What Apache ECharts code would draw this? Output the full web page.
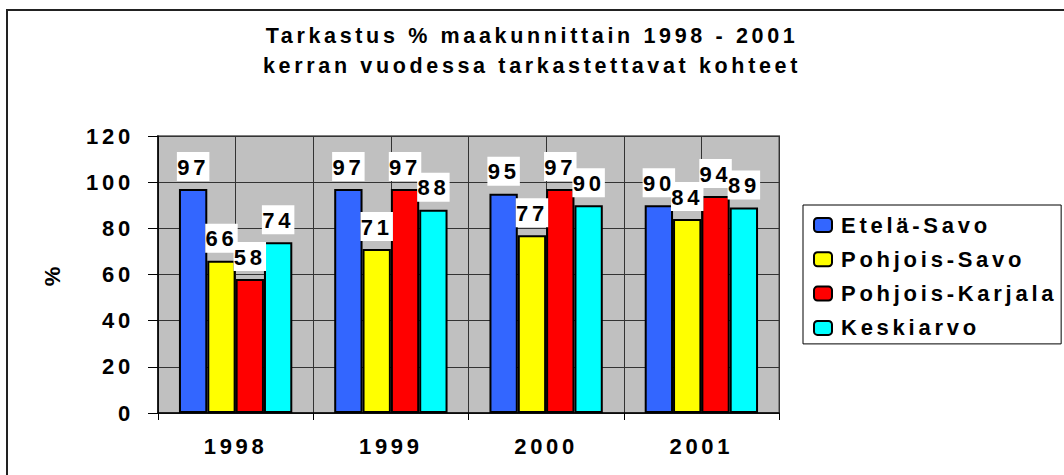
<!DOCTYPE html>
<html>
<head>
<meta charset="utf-8">
<script src="https://cdn.jsdelivr.net/npm/echarts@6/dist/echarts.min.js"></script>
<style>
  body { margin: 0; background: #fff; }
  #main { width: 1064px; height: 475px; }
  /* Excel-style spaced lettering */
  #main text { letter-spacing: 0.17em; }
</style>
</head>
<body>
<div id="main"></div>
<script>
var years = ['1998', '1999', '2000', '2001'];
var seriesNames = ['Etelä-Savo', 'Pohjois-Savo', 'Pohjois-Karjala', 'Keskiarvo'];
var etelaSavo = [97, 97, 95, 90];
var pohjoisSavo = [66, 71, 77, 84];
var pohjoisKarjala = [58, 97, 97, 94];
var keskiarvo = [74, 88, 90, 89];
var colors = ['#3366FF', '#FFFF00', '#FF0000', '#00FFFF'];

var font = '"Liberation Sans", Arial, sans-serif';

var chart = echarts.init(document.getElementById('main'), null, { renderer: 'svg' });

function bar(name, data, color) {
    return {
        name: name,
        type: 'bar',
        data: data,
        barGap: '0%',
        barCategoryGap: '27%',
        itemStyle: { color: color, borderColor: '#000', borderWidth: 2 },
        label: {
            show: true,
            position: 'top',
            distance: 8,
            color: '#000',
            fontFamily: font,
            fontWeight: 'bold',
            fontSize: 22,
            backgroundColor: '#fff',
            padding: [4, 4, 3, 4]
        }
    };
}

var option = {
    animation: false,
    backgroundColor: '#fff',
    title: {
        text: 'Tarkastus % maakunnittain 1998 - 2001\nkerran vuodessa tarkastettavat kohteet',
        left: 'center',
        top: 16,
        textStyle: {
            fontFamily: font,
            fontWeight: 'bold',
            fontSize: 21.5,
            lineHeight: 30,
            color: '#000'
        }
    },
    graphic: [{
        type: 'rect',
        shape: { x: 7, y: 10, width: 1100, height: 500 },
        style: { fill: 'none', stroke: '#222', lineWidth: 2 },
        silent: true
    }],
    legend: {
        orient: 'vertical',
        left: 803,
        top: 205,
        padding: [9, 60, 5, 10],
        itemWidth: 18,
        itemHeight: 14,
        itemGap: 12.3,
        borderColor: '#000',
        borderWidth: 1,
        backgroundColor: '#fff',
        itemStyle: { borderColor: '#000', borderWidth: 2 },
        textStyle: {
            fontFamily: font,
            fontWeight: 'bold',
            fontSize: 22,
            color: '#000',
            padding: [0, 0, 0, 4]
        },
        data: seriesNames
    },
    grid: {
        left: 158,
        right: 285,
        top: 136,
        bottom: 62,
        show: true,
        backgroundColor: '#C0C0C0',
        borderColor: '#808080',
        borderWidth: 2
    },
    xAxis: [{
        type: 'category',
        data: years,
        axisLine: { lineStyle: { color: '#000', width: 1.5 } },
        axisTick: { show: true, length: 7, lineStyle: { color: '#000' } },
        axisLabel: {
            margin: 22,
            color: '#000',
            fontFamily: font,
            fontWeight: 'bold',
            fontSize: 22
        },
        splitLine: { show: false }
    }, {
        // half-category vertical gridlines
        type: 'value',
        position: 'top',
        min: 0,
        max: 8,
        interval: 1,
        axisLine: { show: false },
        axisTick: { show: false },
        axisLabel: { show: false },
        splitLine: { show: true, lineStyle: { color: '#333', width: 1 } }
    }],
    yAxis: {
        type: 'value',
        min: 0,
        max: 120,
        interval: 20,
        name: '%',
        nameLocation: 'middle',
        nameGap: 95,
        nameTextStyle: {
            fontFamily: font,
            fontWeight: 'bold',
            fontSize: 22,
            color: '#000'
        },
        axisLine: { show: true, lineStyle: { color: '#000', width: 1.5 } },
        axisTick: { show: true, length: 10, lineStyle: { color: '#000' } },
        axisLabel: {
            margin: 24,
            color: '#000',
            fontFamily: font,
            fontWeight: 'bold',
            fontSize: 22
        },
        splitLine: { lineStyle: { color: '#333', width: 1 } }
    },
    series: [
        bar(seriesNames[0], etelaSavo, colors[0]),
        bar(seriesNames[1], pohjoisSavo, colors[1]),
        bar(seriesNames[2], pohjoisKarjala, colors[2]),
        bar(seriesNames[3], keskiarvo, colors[3])
    ]
};

chart.setOption(option);
</script>
</body>
</html>
